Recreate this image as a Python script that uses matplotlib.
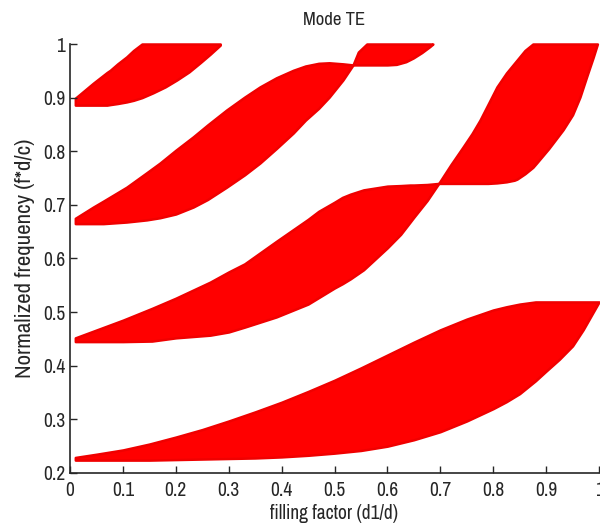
import numpy as np
import matplotlib
matplotlib.use("Agg")
import matplotlib.pyplot as plt
from matplotlib import font_manager

# a narrow sans looks closest to the original; fall back to Liberation Sans
names = sorted({f.name for f in font_manager.fontManager.ttflist})
narrow = [n for n in names if "Narrow" in n or "Condensed" in n]
if narrow:
    plt.rcParams['font.family'] = [narrow[0], 'DejaVu Sans']
    sz_tick, sz_title, sz_xlab, sz_ylab = 14, 13.5, 14, 16.5
else:
    plt.rcParams['font.family'] = ['Liberation Sans', 'DejaVu Sans']
    sz_tick, sz_title, sz_xlab, sz_ylab = 12, 11.5, 12, 14.5

# band gap edges (filling factor -> normalized frequency)
# gap 1
f_g1 = [0.01, 0.05, 0.1, 0.15, 0.2, 0.25, 0.3, 0.35, 0.4, 0.45, 0.5, 0.55, 0.6, 0.65, 0.7,
        0.75, 0.8, 0.825, 0.85, 0.88, 0.9, 0.925, 0.95, 0.97, 1.0]
lo_g1 = [0.224, 0.224, 0.224, 0.224, 0.225, 0.226, 0.227, 0.228, 0.230, 0.233, 0.237, 0.242, 0.250, 0.262, 0.277,
         0.297, 0.320, 0.333, 0.348, 0.372, 0.390, 0.412, 0.437, 0.467, 0.519]
hi_g1 = [0.229, 0.235, 0.243, 0.254, 0.267, 0.281, 0.297, 0.314, 0.332, 0.352, 0.373, 0.396, 0.420, 0.444, 0.467,
         0.487, 0.504, 0.510, 0.515, 0.519, 0.519, 0.519, 0.519, 0.519, 0.519]

# gap 2, left of the crossing
f_g2a = [0.01, 0.1, 0.155, 0.2, 0.265, 0.3, 0.33, 0.39, 0.45, 0.47, 0.5, 0.515, 0.53, 0.555, 0.6, 0.625,
         0.643, 0.65, 0.675, 0.697]
lo_g2a = [0.445, 0.445, 0.446, 0.452, 0.457, 0.463, 0.472, 0.491, 0.515, 0.527, 0.545, 0.553, 0.562, 0.579, 0.620, 0.645,
          0.668, 0.677, 0.708, 0.740]
hi_g2a = [0.452, 0.485, 0.507, 0.526, 0.556, 0.575, 0.590, 0.632, 0.673, 0.688, 0.705, 0.714, 0.720, 0.728, 0.735, 0.736,
          0.737, 0.737, 0.738, 0.740]

# gap 2, right of the crossing
f_g2b = [0.697, 0.72, 0.743, 0.76, 0.775, 0.79, 0.807, 0.825, 0.84, 0.845, 0.86, 0.875, 0.882, 0.905,
         0.932, 0.95, 0.964, 0.977, 0.989, 0.997]
lo_g2b = [0.740, 0.740, 0.740, 0.740, 0.740, 0.740, 0.741, 0.743, 0.746, 0.748, 0.758, 0.770, 0.778, 0.805,
          0.840, 0.868, 0.901, 0.940, 0.975, 1.0]
hi_g2b = [0.740, 0.775, 0.808, 0.833, 0.858, 0.887, 0.920, 0.946, 0.964, 0.970, 0.988, 1.0, 1.0, 1.0,
          1.0, 1.0, 1.0, 1.0, 1.0, 1.0]

# gap 3, left of the crossing
f_g3a = [0.01, 0.044, 0.063, 0.107, 0.145, 0.17, 0.2, 0.233, 0.26, 0.296, 0.33, 0.359, 0.39, 0.422,
         0.445, 0.47, 0.49, 0.516, 0.535]
lo_g3a = [0.665, 0.665, 0.665, 0.668, 0.672, 0.676, 0.683, 0.696, 0.710, 0.733, 0.756, 0.778, 0.805, 0.834,
          0.858, 0.880, 0.901, 0.933, 0.961]
hi_g3a = [0.675, 0.696, 0.707, 0.733, 0.760, 0.778, 0.802, 0.827, 0.849, 0.877, 0.901, 0.920, 0.937, 0.951,
          0.959, 0.964, 0.965, 0.963, 0.961]

# gap 3, right of the crossing
f_g3b = [0.535, 0.545, 0.561, 0.6, 0.617, 0.635, 0.649, 0.665, 0.68, 0.686]
lo_g3b = [0.961, 0.961, 0.961, 0.961, 0.962, 0.967, 0.974, 0.984, 0.995, 1.0]
hi_g3b = [0.961, 0.985, 1.0, 1.0, 1.0, 1.0, 1.0, 1.0, 1.0, 1.0]

# gap 4
f_g4 = [0.01, 0.044, 0.07, 0.076, 0.09, 0.107, 0.12, 0.136, 0.157, 0.18, 0.202, 0.225, 0.246, 0.265, 0.284]
lo_g4 = [0.886, 0.886, 0.886, 0.887, 0.889, 0.892, 0.895, 0.900, 0.909, 0.920, 0.933, 0.948, 0.965, 0.981, 0.998]
hi_g4 = [0.899, 0.927, 0.947, 0.951, 0.963, 0.976, 0.988, 1.0, 1.0, 1.0, 1.0, 1.0, 1.0, 1.0, 1.0]

xticks = [0, 0.1, 0.2, 0.3, 0.4, 0.5, 0.6, 0.7, 0.8, 0.9, 1]
xticklabels = ["0", "0.1", "0.2", "0.3", "0.4", "0.5", "0.6", "0.7", "0.8", "0.9", "1"]
yticks = [0.2, 0.3, 0.4, 0.5, 0.6, 0.7, 0.8, 0.9, 1]
yticklabels = ["0.2", "0.3", "0.4", "0.5", "0.6", "0.7", "0.8", "0.9", "1"]

gaps = [
    (f_g1, lo_g1, hi_g1),
    (f_g2a, lo_g2a, hi_g2a),
    (f_g2b, lo_g2b, hi_g2b),
    (f_g3a, lo_g3a, hi_g3a),
    (f_g3b, lo_g3b, hi_g3b),
    (f_g4, lo_g4, hi_g4),
]

fig = plt.figure(figsize=(6, 5.27), dpi=100)
ax = fig.add_axes([0.1167, 0.1025, 0.8816, 0.814])

for f, lo, hi in gaps:
    ax.fill_between(f, lo, hi, facecolor="#ff0000", edgecolor="#f00000",
                    linewidth=1.8, joinstyle="round", clip_on=False)

ax.set_xlim(0, 1)
ax.set_ylim(0.2, 1)
ax.set_xticks(xticks)
ax.set_xticklabels(xticklabels)
ax.set_yticks(yticks)
ax.set_yticklabels(yticklabels)
ax.tick_params(direction="in", length=5, width=1, labelsize=sz_tick, colors="#262626")
ax.tick_params(axis="x", pad=6)

for side in ["top", "right"]:
    ax.spines[side].set_visible(False)
for side in ["left", "bottom"]:
    ax.spines[side].set_linewidth(1.2)
    ax.spines[side].set_color("#262626")

ax.set_title("Mode TE", fontsize=sz_title, color="#262626", pad=14)
ax.set_xlabel("filling factor (d1/d)", fontsize=sz_xlab, color="#262626", labelpad=3)
ax.set_ylabel("Normalized frequency (f*d/c)", fontsize=sz_ylab, color="#262626", labelpad=6)

fig.savefig("out.png", dpi=100)
